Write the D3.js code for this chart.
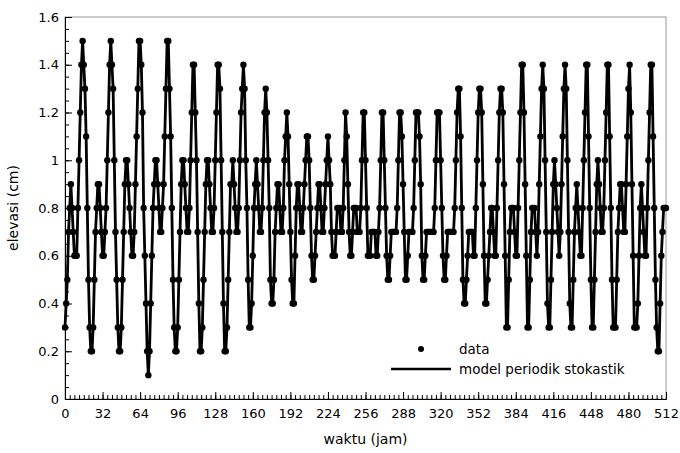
<!DOCTYPE html>
<html><head><meta charset="utf-8">
<script src="https://cdn.jsdelivr.net/npm/d3@7"></script>
<style>body{margin:0;background:#fff}text{font-family:"DejaVu Sans",sans-serif}</style>
</head><body>
<script>
// elevation per hour (cm)
const elevasi = [
 0.3,0.4,0.5,0.7,0.8,0.9,0.8,0.7,0.6,0.6,0.6,0.8,1.0,1.2,1.4,1.5,1.4,1.3,1.1,0.8,0.5,0.3,0.2,
 0.2,0.3,0.5,0.7,0.8,0.9,0.9,0.8,0.7,0.6,0.6,0.7,0.8,1.0,1.2,1.4,1.5,1.4,1.3,1.0,0.7,0.5,0.3,0.2,0.2,
 0.3,0.5,0.7,0.9,1.0,1.0,0.9,0.8,0.7,0.6,0.6,0.7,0.9,1.1,1.3,1.5,1.5,1.4,1.2,0.8,0.6,0.4,0.2,0.1,0.2,
 0.4,0.6,0.8,0.9,1.0,1.0,0.9,0.8,0.7,0.7,0.8,0.9,1.1,1.3,1.5,1.5,1.3,1.1,0.8,0.5,0.3,0.2,0.2,0.3,0.5,
 0.7,0.9,1.0,1.0,0.9,0.8,0.7,0.7,0.8,1.0,1.2,1.4,1.4,1.2,1.0,0.7,0.4,0.2,0.2,0.3,0.5,0.7,0.9,1.0,1.0,
 0.9,0.8,0.7,0.7,0.8,1.0,1.2,1.4,1.4,1.3,1.0,0.7,0.4,0.2,0.2,0.3,0.5,0.7,0.9,0.9,1.0,0.9,0.8,0.7,0.7,
 0.8,1.0,1.2,1.3,1.4,1.3,1.0,0.8,0.5,0.3,0.3,0.4,0.6,0.8,0.9,1.0,0.9,0.8,0.7,0.7,0.8,1.0,1.2,1.3,1.2,
 1.0,0.8,0.5,0.4,0.4,0.5,0.7,0.8,0.9,0.9,0.8,0.7,0.7,0.8,1.0,1.1,1.2,1.1,0.9,0.7,0.5,0.4,0.4,0.6,0.8,
 0.9,0.9,0.8,0.7,0.7,0.8,0.9,1.0,1.1,1.1,1.0,0.8,0.6,0.5,0.5,0.6,0.7,0.8,0.9,0.9,0.8,0.7,0.7,0.8,0.9,
 1.0,1.1,1.0,0.9,0.7,0.6,0.6,0.6,0.7,0.8,0.8,0.8,0.7,0.7,0.8,1.0,1.2,1.1,0.9,0.7,0.6,0.6,0.7,0.8,0.8,
 0.8,0.7,0.7,0.7,0.8,1.0,1.2,1.2,1.0,0.8,0.6,0.6,0.6,0.7,0.7,0.7,0.7,0.6,0.6,0.7,0.8,1.0,1.2,1.2,1.0,
 0.8,0.6,0.5,0.5,0.6,0.7,0.7,0.7,0.7,0.7,0.8,1.0,1.2,1.2,1.1,0.9,0.7,0.5,0.5,0.6,0.7,0.7,0.7,0.7,0.8,
 1.0,1.2,1.2,1.2,1.1,0.9,0.6,0.5,0.5,0.6,0.7,0.7,0.7,0.7,0.7,0.7,0.7,0.8,1.0,1.2,1.2,1.2,1.0,0.8,0.6,
 0.5,0.5,0.6,0.7,0.7,0.7,0.7,0.7,0.7,0.8,1.0,1.2,1.3,1.3,1.1,0.8,0.5,0.4,0.4,0.5,0.6,0.7,0.7,0.7,0.7,
 0.6,0.6,0.8,1.0,1.2,1.3,1.3,1.2,0.9,0.6,0.4,0.4,0.5,0.6,0.7,0.8,0.8,0.7,0.6,0.6,0.8,1.0,1.2,1.3,1.3,
 1.2,0.9,0.6,0.3,0.3,0.5,0.7,0.8,0.8,0.8,0.7,0.6,0.6,0.8,1.0,1.2,1.4,1.4,1.2,0.9,0.6,0.3,0.3,0.5,0.7,
 0.8,0.8,0.8,0.7,0.6,0.7,0.9,1.1,1.3,1.4,1.3,1.0,0.7,0.4,0.3,0.3,0.5,0.7,0.9,1.0,0.9,0.8,0.7,0.6,0.7,
 0.9,1.1,1.3,1.4,1.3,1.0,0.7,0.4,0.3,0.3,0.5,0.7,0.8,0.9,0.8,0.7,0.6,0.6,0.8,1.0,1.2,1.4,1.4,1.1,0.8,
 0.5,0.3,0.3,0.5,0.7,0.9,1.0,0.9,0.8,0.7,0.7,0.8,1.0,1.2,1.4,1.4,1.1,0.8,0.5,0.3,0.3,0.3,0.5,0.7,0.8,
 0.9,0.9,0.8,0.7,0.7,0.9,1.1,1.3,1.4,1.2,0.9,0.6,0.3,0.3,0.3,0.4,0.6,0.8,0.9,0.8,0.7,0.6,0.6,0.8,1.0,
 1.2,1.4,1.4,1.1,0.8,0.5,0.3,0.2,0.2,0.4,0.6,0.7,0.8,0.8,0.8
];
const xTicks = [0,32,64,96,128,160,192,224,256,288,320,352,384,416,448,480,512];
const yTicks = [0,0.2,0.4,0.6,0.8,1,1.2,1.4,1.6];
const legendLabels = ["data", "model periodik stokastik"];

const data = elevasi.slice(0, 513).map((v, i) => [i, v]);

const W = 680, H = 453;
const m = {left: 65, right: 14, top: 17, bottom: 54};

const svg = d3.select("body").append("svg").attr("width", W).attr("height", H);

const x = d3.scaleLinear().domain([0, 512]).range([m.left, W - m.right]);
const y = d3.scaleLinear().domain([0, 1.6]).range([H - m.bottom, m.top]);

// frame
svg.append("rect")
	.attr("x", m.left).attr("y", m.top)
	.attr("width", W - m.right - m.left).attr("height", H - m.bottom - m.top)
	.attr("fill", "none").attr("stroke", "#999").attr("stroke-width", 1);

// minor ticks
svg.append("g").attr("transform", "translate(0," + (H - m.bottom) + ")")
	.call(d3.axisBottom(x).tickValues(d3.range(0, 513, 4)).tickSize(-4).tickFormat(""))
	.call(g => g.select(".domain").remove());
svg.append("g").attr("transform", "translate(" + m.left + ",0)")
	.call(d3.axisLeft(y).tickValues(d3.range(0, 1.601, 0.05)).tickSize(-4).tickFormat(""))
	.call(g => g.select(".domain").remove());

const xAxis = svg.append("g").attr("transform", "translate(0," + (H - m.bottom) + ")")
	.call(d3.axisBottom(x).tickValues(xTicks).tickSize(-7).tickPadding(10).tickFormat(d3.format("d")));
const yAxis = svg.append("g").attr("transform", "translate(" + m.left + ",0)")
	.call(d3.axisLeft(y).tickValues(yTicks).tickSize(-7).tickPadding(6).tickFormat(d => d3.format("")(+d.toFixed(1))));
[xAxis, yAxis].forEach(a => {
	a.select(".domain").attr("stroke", "#000");
	a.selectAll("text").attr("font-size", 13).attr("fill", "#000").attr("font-family", "DejaVu Sans");
});
svg.selectAll(".tick line").attr("stroke", "#000");

svg.append("text").attr("x", (m.left + W - m.right) / 2).attr("y", 444)
	.attr("text-anchor", "middle").attr("font-size", 14).text("waktu (jam)");
svg.append("text").attr("transform", "translate(18," + ((m.top + H - m.bottom) / 2) + ") rotate(-90)")
	.attr("text-anchor", "middle").attr("font-size", 14).text("elevasi (cm)");

const line = d3.line().x(d => x(d[0])).y(d => y(d[1]));
svg.append("path").datum(data).attr("d", line)
	.attr("fill", "none").attr("stroke", "#000").attr("stroke-width", 2.8).attr("stroke-linejoin", "round");
svg.append("g").selectAll("circle").data(data).enter().append("circle")
	.attr("cx", d => x(d[0])).attr("cy", d => y(d[1])).attr("r", 3.2).attr("fill", "#000");

// legend
svg.append("circle").attr("cx", 421).attr("cy", 349).attr("r", 3).attr("fill", "#000");
svg.append("line").attr("x1", 391).attr("x2", 451).attr("y1", 369).attr("y2", 369)
	.attr("stroke", "#000").attr("stroke-width", 2.6);
legendLabels.forEach((t, i) => {
	svg.append("text").attr("x", 459).attr("y", 354 + i * 20).attr("font-size", 13.5).text(t);
});
</script>
</body></html>
